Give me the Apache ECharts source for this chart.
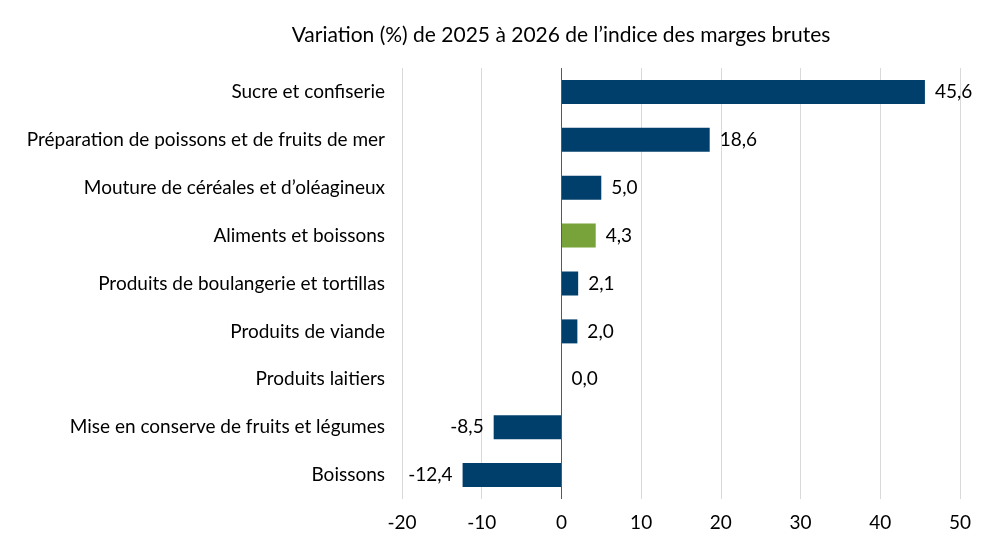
<!DOCTYPE html>
<html><head><meta charset="utf-8">
<script src="https://cdn.jsdelivr.net/npm/echarts@6/dist/echarts.min.js"></script>
<style>html,body{margin:0;padding:0;background:#fff}#c{width:992px;height:558px}</style>
</head><body><div id="c"></div>
<script>
const categories = ["Sucre et confiserie","Préparation de poissons et de fruits de mer","Mouture de céréales et d’oléagineux","Aliments et boissons","Produits de boulangerie et tortillas","Produits de viande","Produits laitiers","Mise en conserve de fruits et légumes","Boissons"];
const values = [45.6, 18.6, 5.0, 4.3, 2.1, 2.0, 0.0, -8.5, -12.4];
const highlight = "Aliments et boissons";
const xTicks = {min: -20, max: 50, interval: 10};
const titleText = "Variation (%) de 2025 à 2026 de l’indice des marges brutes";

const FONT = "Lato";
const chart = echarts.init(document.getElementById('c'));
chart.setOption({
  animation: false,
  title: {text: titleText, left: 556, top: 20, textAlign: 'center',
    textStyle: {fontFamily: FONT, fontSize: 21, fontWeight: 'normal', color: '#000'}},
  grid: {left: 402, right: 32, top: 68, bottom: 59, containLabel: false, outerBoundsMode: 'none'},
  xAxis: {type: 'value', min: xTicks.min, max: xTicks.max, interval: xTicks.interval,
    axisLine: {show: false}, axisTick: {show: false},
    axisLabel: {fontFamily: FONT, fontSize: 19, color: '#000', margin: 14},
    splitLine: {lineStyle: {color: '#d9d9d9', width: 1}}},
  yAxis: {type: 'category', inverse: true, data: categories,
    axisLine: {show: false}, axisTick: {show: false},
    axisLabel: {fontFamily: FONT, fontSize: 19, color: '#000', margin: 17}},
  series: [{
    type: 'bar', barWidth: 24,
    data: values.map((v, i) => ({value: v,
      itemStyle: {color: categories[i] === highlight ? '#77a33a' : '#003f6b'},
      label: {position: v < 0 ? 'left' : 'right'}})),
    label: {show: true, distance: 10, fontFamily: FONT, fontSize: 19, color: '#000',
      formatter: p => p.value.toFixed(1).replace('.', ',')},
    markLine: {silent: true, symbol: 'none', label: {show: false},
      lineStyle: {color: '#595959', width: 1, type: 'solid'},
      data: [{xAxis: 0}]}
  }]
});
</script></body></html>
